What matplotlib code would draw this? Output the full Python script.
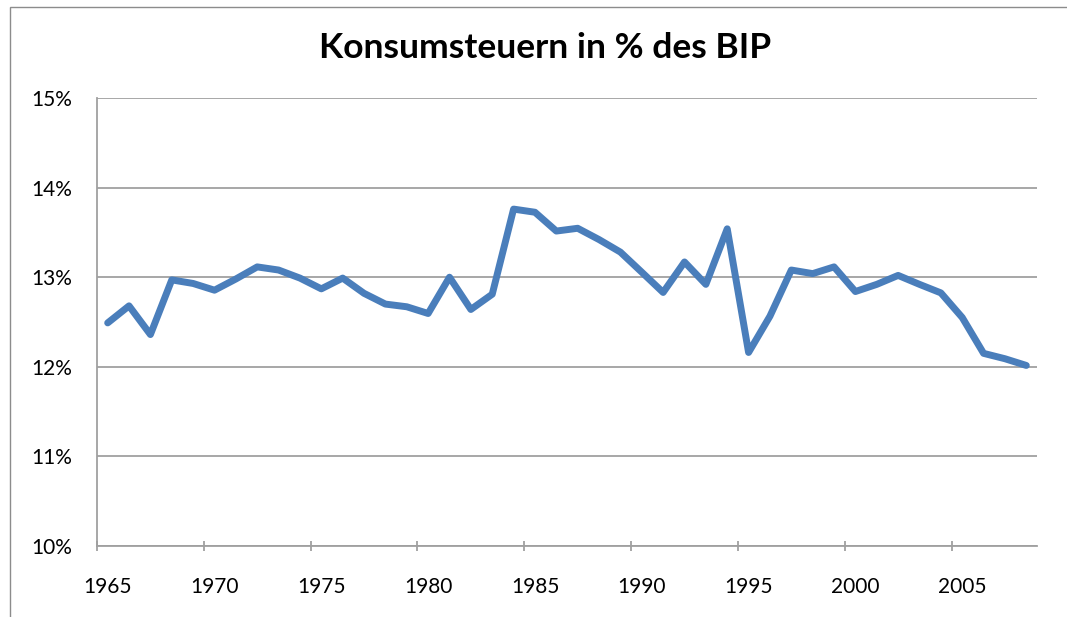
import matplotlib
matplotlib.use("Agg")
import matplotlib.pyplot as plt
from matplotlib.patches import Rectangle
import numpy as np

years = list(range(1965, 2009))
values = [12.49, 12.68, 12.36, 12.97, 12.93, 12.855, 12.98, 13.115, 13.08, 12.99,
          12.87, 12.99, 12.82, 12.70, 12.67, 12.595, 13.00, 12.64, 12.81, 13.76,
          13.725, 13.515, 13.546, 13.42, 13.28, 13.056, 12.83, 13.17, 12.92, 13.54,
          12.16, 12.565, 13.08, 13.04, 13.115, 12.84, 12.92, 13.02, 12.92, 12.825,
          12.55, 12.15, 12.09, 12.015]
y_ticks = [10, 11, 12, 13, 14, 15]
y_labels = ["10%", "11%", "12%", "13%", "14%", "15%"]
x_label_years = [1965, 1970, 1975, 1980, 1985, 1990, 1995, 2000, 2005]
title = "Konsumsteuern in % des BIP"

W, H = 1067, 617
fig = plt.figure(figsize=(W / 100, H / 100), dpi=100)
plt.rcParams['font.family'] = ['Lato', 'DejaVu Sans']

left, right, top, bottom = 97, 1037, 98, 546
ax = fig.add_axes([left / W, 1 - bottom / H, (right - left) / W, (bottom - top) / H])

grid_col = "#a0a0a0"
ax.plot(years, values, color="#4a7ebb", lw=5.0, solid_joinstyle="round",
        solid_capstyle="round", zorder=3, clip_on=False)

ax.set_xlim(years[0] - 0.5, years[-1] + 0.5)
ax.set_ylim(10, 15)
ax.set_yticks(y_ticks)
ax.set_yticklabels(y_labels, fontsize=15)
ax.tick_params(axis="y", length=0, pad=18)
ax.yaxis.grid(True, color=grid_col, lw=1.3)
ax.set_axisbelow(True)

# category axis: ticks on boundaries, labels at centers
ax.set_xticks([y - 0.5 for y in x_label_years])
ax.set_xticklabels([])
ax.set_xticks(x_label_years, minor=True)
ax.set_xticklabels([str(y) for y in x_label_years], minor=True, fontsize=15)
ax.tick_params(axis="x", which="major", direction="inout", length=7, width=1.3, color=grid_col)
ax.tick_params(axis="x", which="minor", length=0, pad=22)

for s in ["top", "right"]:
    ax.spines[s].set_visible(False)
for s in ["left", "bottom"]:
    ax.spines[s].set_color(grid_col)
    ax.spines[s].set_linewidth(1.3)

fig.text(545.5 / W, 1 - 48 / H, title, ha="center", va="center",
         fontsize=25.5, fontweight="bold", color="black")

fig.patches.append(Rectangle((9.5 / W, -0.1), 2, 1 - 7.3 / H + 0.1,
                             transform=fig.transFigure, fill=False,
                             edgecolor="#8c8c8c", lw=1.0))

fig.savefig("out.png", dpi=100)
